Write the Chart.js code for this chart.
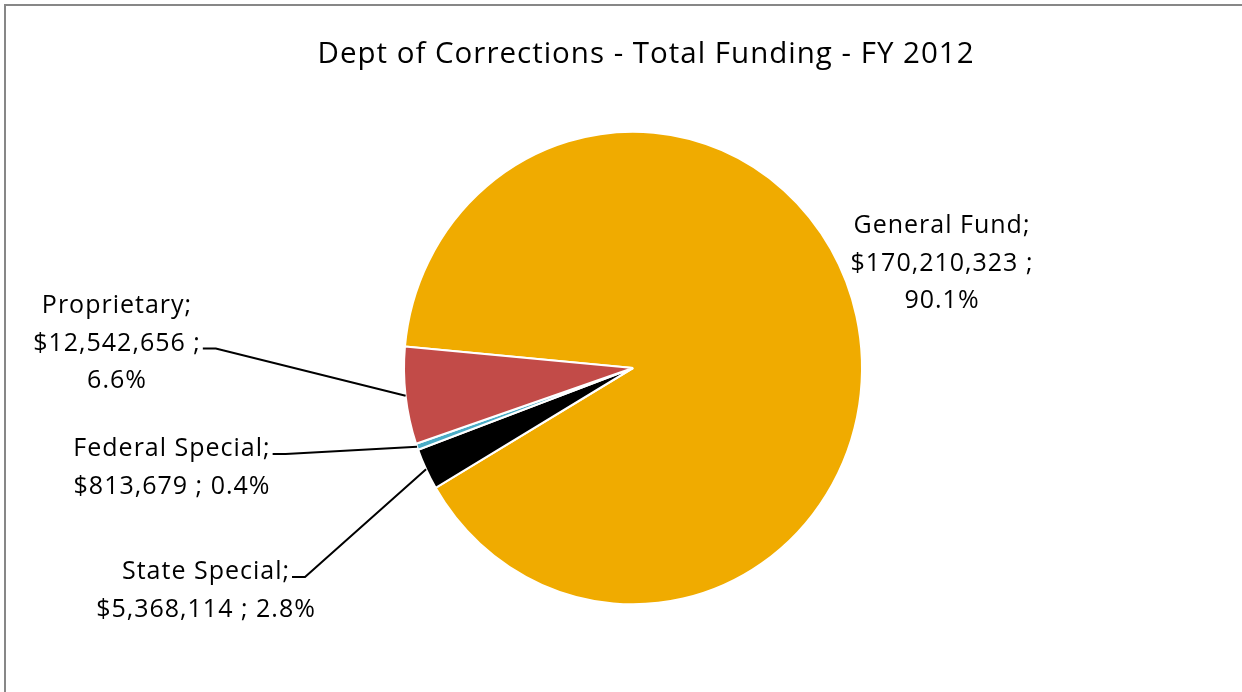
<!DOCTYPE html>
<html lang="en">

<head>
    <meta charset="UTF-8">
    <title>Dept of Corrections - Total Funding - FY 2012</title>
    <script src="https://cdn.jsdelivr.net/npm/chart.js"></script>
    <style>
        html, body { margin: 0; padding: 0; background: #fff; }
        #wrap { width: 1242px; height: 692px; position: relative; }
    </style>
</head>

<body>
    <div id="wrap"><canvas id="grafico"></canvas></div>

    <script>
        const chartTitle = 'Dept of Corrections - Total Funding - FY 2012';
        const categories = ['General Fund', 'State Special', 'Federal Special', 'Proprietary'];
        const funding = [170210323, 5368114, 813679, 12542656];
        const sliceColors = ['#F0AB00', '#000000', '#4BACC6', '#C24B48'];

        const total = funding.reduce((a, b) => a + b, 0);
        const money = v => '$' + v.toLocaleString('en-US');
        const pct = v => (v / total * 100).toFixed(1) + '%';

        // label blocks: centre x, first baseline, wrap style, line the leader hangs from
        const labelPlace = {
            'General Fund':    { x: 942, y: 233, split: true,  leader: null },
            'Proprietary':     { x: 117, y: 313, split: true,  leader: 1 },
            'Federal Special': { x: 172, y: 456, split: false, leader: 0 },
            'State Special':   { x: 206, y: 579, split: false, leader: 0 }
        };
        const LINE_H = 37.5;
        const FONT = '25px "Open Sans"';
        const TITLE_FONT = '29.5px "Open Sans"';
        const STRETCH_Y = 1.032; // pie is a touch taller than wide

        const decor = {
            id: 'decor',
            beforeDraw(chart) {
                const ctx = chart.ctx;
                ctx.save();
                ctx.fillStyle = '#fff';
                ctx.fillRect(0, 0, chart.width, chart.height);
                // frame, only top and left edges show
                ctx.strokeStyle = '#878787';
                ctx.lineWidth = 2;
                ctx.beginPath();
                ctx.moveTo(5, chart.height + 2);
                ctx.lineTo(5, 5);
                ctx.lineTo(chart.width + 2, 5);
                ctx.stroke();
                ctx.restore();
            },
            beforeDatasetsDraw(chart) {
                const arc = chart.getDatasetMeta(0).data[0];
                const ctx = chart.ctx;
                ctx.save();
                ctx.translate(arc.x, arc.y);
                ctx.scale(1, STRETCH_Y);
                ctx.translate(-arc.x, -arc.y);
            },
            afterDatasetsDraw(chart) {
                const ctx = chart.ctx;
                ctx.restore();

                ctx.save();
                ctx.letterSpacing = '1px';
                ctx.fillStyle = '#000';
                ctx.textAlign = 'center';
                ctx.textBaseline = 'alphabetic';
                ctx.font = TITLE_FONT;
                ctx.fillText(chartTitle, 646, 63);

                ctx.font = FONT;
                ctx.strokeStyle = '#000';
                ctx.lineWidth = 2;
                chart.getDatasetMeta(0).data.forEach((arc, i) => {
                    const name = categories[i];
                    const p = labelPlace[name];
                    const v = funding[i];
                    const lines = p.split
                        ? [name + ';', money(v) + ' ;', pct(v)]
                        : [name + ';', money(v) + ' ; ' + pct(v)];
                    lines.forEach((t, k) => ctx.fillText(t, p.x, p.y + k * LINE_H));

                    if (p.leader !== null) {
                        const w = ctx.measureText(lines[p.leader]).width;
                        const x0 = p.x + w / 2 + 2;
                        const y0 = p.y + p.leader * LINE_H - 2;
                        const mid = (arc.startAngle + arc.endAngle) / 2;
                        const ex = arc.x + Math.cos(mid) * arc.outerRadius;
                        const ey = arc.y + Math.sin(mid) * arc.outerRadius * STRETCH_Y;
                        ctx.beginPath();
                        ctx.moveTo(x0, y0);
                        ctx.lineTo(x0 + 13, y0);
                        ctx.lineTo(ex, ey);
                        ctx.stroke();
                    }
                });
                ctx.restore();
            }
        };

        const canvas = document.getElementById('grafico').getContext('2d');

        const grafico = new Chart(canvas, {
            type: 'pie',
            data: {
                labels: categories,
                datasets: [{
                    data: funding,
                    backgroundColor: sliceColors,
                    borderColor: '#ffffff',
                    borderWidth: 2
                }]
            },
            options: {
                responsive: true,
                maintainAspectRatio: false,
                animation: false,
                events: [],
                rotation: 275.2,
                radius: 229,
                layout: { padding: { left: 300, right: 276, top: 100, bottom: 56 } },
                plugins: {
                    legend: { display: false },
                    tooltip: { enabled: false },
                    title: { display: false }
                }
            },
            plugins: [decor]
        });
    </script>
</body>

</html>
